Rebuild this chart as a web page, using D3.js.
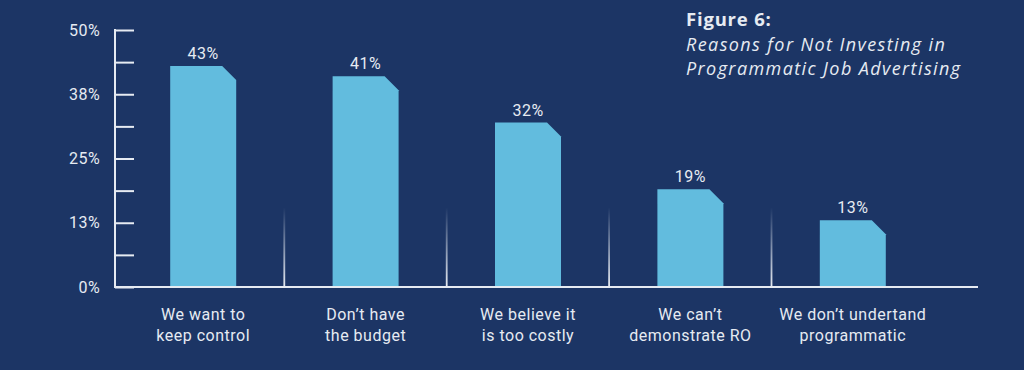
<!DOCTYPE html>
<html>
<head>
<meta charset="utf-8">
<script src="https://cdn.jsdelivr.net/npm/d3@7"></script>
<style>
  html, body { margin: 0; padding: 0; background: #1c3565; }
  svg { display: block; }
</style>
</head>
<body>
<svg></svg>
<script>
var width = 1024;
var height = 370;

// data
var categories = [
    ['We want to', 'keep control'],
    ['Don\u2019t have', 'the budget'],
    ['We believe it', 'is too costly'],
    ['We can\u2019t', 'demonstrate RO'],
    ['We don\u2019t undertand', 'programmatic']
];
var values = [43, 41, 32, 19, 13];
var tickValues = [0, 6.25, 12.5, 18.75, 25, 31.25, 37.5, 43.75, 50];
var tickLabels = {0: '0%', 12.5: '13%', 25: '25%', 37.5: '38%', 50: '50%'};
var titleLines = ['Reasons for Not Investing in', 'Programmatic Job Advertising'];

var bg = '#1c3565';
var barColor = '#62bcde';
var ink = '#e6ebf2';
var font = 'Roboto, "Open Sans", sans-serif';

var svg = d3.select('svg')
    .attr('width', width)
    .attr('height', height)
    .style('background', bg);

var defs = svg.append('defs');
var grad = defs.append('linearGradient')
    .attr('id', 'sepFade')
    .attr('x1', 0).attr('y1', 0)
    .attr('x2', 0).attr('y2', 1);
grad.append('stop').attr('offset', '0%').attr('stop-color', ink).attr('stop-opacity', 0);
grad.append('stop').attr('offset', '100%').attr('stop-color', ink).attr('stop-opacity', 1);

var x = d3.scaleBand()
    .domain(d3.range(values.length))
    .range([122, 934])
    .padding(0);

var y = d3.scaleLinear()
    .domain([0, 50])
    .range([287, 30]);

var barW = 66;
var cut = 14;

// separators between categories
svg.append('g')
    .selectAll('rect')
    .data(d3.range(1, values.length))
    .enter()
    .append('rect')
        .attr('x', d => x(d) - 1)
        .attr('y', y(15.5))
        .attr('width', 1.8)
        .attr('height', y(0) - y(15.5))
        .attr('fill', 'url(#sepFade)');

// bars with chamfered top-right corner
svg.append('g')
    .selectAll('path')
    .data(values)
    .enter()
    .append('path')
        .attr('fill', barColor)
        .attr('d', function(d, i) {
            var x0 = x(i) + x.bandwidth() / 2 - barW / 2;
            var x1 = x0 + barW;
            var top = y(d);
            return 'M' + x0 + ',' + y(0) +
                   'L' + x0 + ',' + top +
                   'L' + (x1 - cut) + ',' + top +
                   'L' + x1 + ',' + (top + cut) +
                   'L' + x1 + ',' + y(0) + 'Z';
        });

// value labels
svg.append('g')
    .selectAll('text')
    .data(values)
    .enter()
    .append('text')
        .attr('x', (d, i) => x(i) + x.bandwidth() / 2)
        .attr('y', d => y(d) - 7)
        .attr('text-anchor', 'middle')
        .attr('fill', ink)
        .style('font-family', font)
        .style('font-size', '16px')
        .style('letter-spacing', '0.5px')
        .text(d => d + '%');

// y axis
var yAxis = d3.axisLeft(y)
    .tickValues(tickValues)
    .tickSize(0)
    .tickFormat(d => tickLabels[d] || '');

var yg = svg.append('g')
    .attr('transform', 'translate(115,0)')
    .call(yAxis);
yg.select('.domain').remove();
yg.selectAll('.tick text')
    .attr('x', -15)
    .attr('fill', ink)
    .style('font-family', font)
    .style('font-size', '16px')
    .style('letter-spacing', '0.4px');
yg.selectAll('.tick')
    .append('line')
        .attr('x1', 0)
        .attr('x2', 19)
        .attr('stroke', ink)
        .attr('stroke-width', 2);
yg.append('line')
    .attr('x1', 0).attr('x2', 0)
    .attr('y1', y(50) - 1).attr('y2', y(0) + 1)
    .attr('stroke', ink)
    .attr('stroke-width', 2);

// x axis line
svg.append('line')
    .attr('x1', 114).attr('x2', 978)
    .attr('y1', y(0)).attr('y2', y(0))
    .attr('stroke', ink)
    .attr('stroke-width', 2);

// category labels
var cat = svg.append('g')
    .selectAll('text')
    .data(categories)
    .enter()
    .append('text')
        .attr('text-anchor', 'middle')
        .attr('fill', ink)
        .style('font-family', font)
        .style('font-size', '16px')
        .style('letter-spacing', '0.5px');
cat.selectAll('tspan')
    .data((d, i) => d.map(t => ({t: t, i: i})))
    .enter()
    .append('tspan')
        .attr('x', d => x(d.i) + x.bandwidth() / 2)
        .attr('y', (d, j) => 320 + j * 21)
        .text(d => d.t);

// title
svg.append('text')
    .attr('x', 686).attr('y', 26)
    .attr('fill', ink)
    .style('font-family', '"Open Sans", sans-serif')
    .style('font-weight', 'bold')
    .style('font-size', '18.5px')
    .style('letter-spacing', '0.8px')
    .text('Figure 6:');
svg.append('g')
    .selectAll('text')
    .data(titleLines)
    .enter()
    .append('text')
        .attr('x', 686)
        .attr('y', (d, i) => 51 + i * 24)
        .attr('fill', ink)
        .style('font-family', '"Open Sans", sans-serif')
        .style('font-style', 'italic')
        .style('font-size', '18px')
        .style('letter-spacing', '1.4px')
        .text(d => d);
</script>
</body>
</html>
